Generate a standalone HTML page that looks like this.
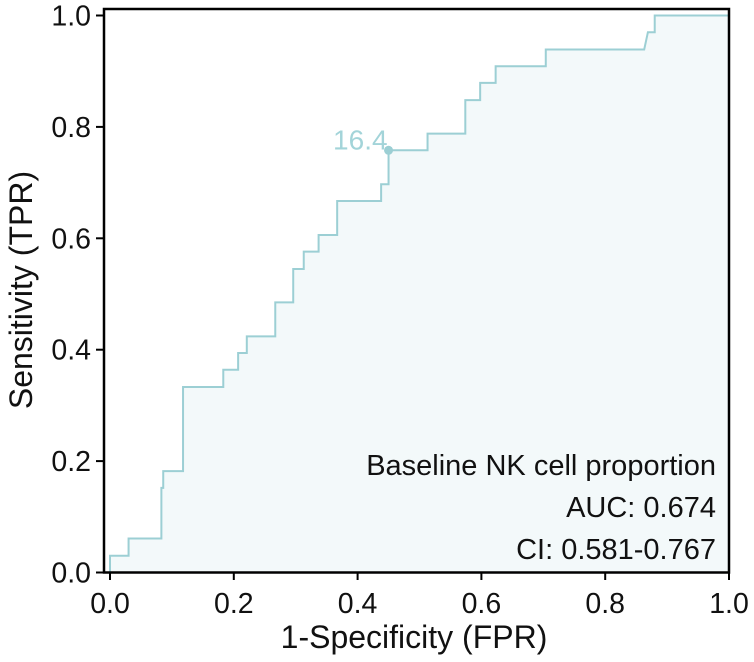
<!DOCTYPE html>
<html><head><meta charset="utf-8"><style>
html,body{margin:0;padding:0;background:#fff;}
svg{display:block;font-family:"Liberation Sans",Arial,sans-serif;}
</style></head><body>
<svg id="chart" width="754" height="662" viewBox="0 0 754 662">
<g id="plot"></g>
</svg>
<script>
const fpr = [0,0,0.030,0.030,0.083,0.083,0.086,0.086,0.118,0.118,0.183,0.183,0.207,0.207,0.221,0.221,0.267,0.267,0.296,0.296,0.313,0.313,0.337,0.337,0.367,0.367,0.438,0.438,0.450,0.450,0.513,0.513,0.574,0.574,0.598,0.598,0.623,0.623,0.704,0.704,0.863,0.869,0.880,0.880,1];
const tpr = [0,0.030,0.030,0.061,0.061,0.152,0.152,0.182,0.182,0.333,0.333,0.364,0.364,0.394,0.394,0.424,0.424,0.485,0.485,0.545,0.545,0.576,0.576,0.606,0.606,0.667,0.667,0.697,0.697,0.758,0.758,0.788,0.788,0.848,0.848,0.879,0.879,0.909,0.909,0.939,0.939,0.970,0.970,1,1];
const xTicks = [0,0.2,0.4,0.6,0.8,1.0];
const yTicks = [0,0.2,0.4,0.6,0.8,1.0];
const cutoffPoint = [0.450, 0.758];
const cutoffLabel = ["16.4"];
const annotations = ["Baseline NK cell proportion","AUC: 0.674","CI: 0.581-0.767"];

const NS = "http://www.w3.org/2000/svg";
const X0 = 110, X1 = 729, Y0 = 572.5, Y1 = 15.5;
const sx = v => X0 + v * (X1 - X0);
const sy = v => Y0 - v * (Y0 - Y1);
const g = document.getElementById('plot');
function mk(tag, attrs, parent) {
  const e = document.createElementNS(NS, tag);
  for (const k in attrs) e.setAttribute(k, attrs[k]);
  (parent || g).appendChild(e);
  return e;
}
let d = "";
for (let i = 0; i < fpr.length; i++) d += (i ? "L" : "M") + sx(fpr[i]).toFixed(2) + "," + sy(tpr[i]).toFixed(2);
const area = mk('path', {d: d + "L" + sx(1) + "," + sy(0) + "Z", fill: "#f3f9fa", stroke: "none"});


const line = mk('path', {d: d, fill: "none", stroke: "#9ccfd4", "stroke-width": 2});


const pt = mk('circle', {cx: sx(cutoffPoint[0]), cy: sy(cutoffPoint[1]), r: 4.5, fill: "#9ccfd4"});


const ct = mk('text', {x: sx(cutoffPoint[0]) - 1, y: sy(cutoffPoint[1]) - 1, "text-anchor": "end", "font-size": 28, fill: "#a3d4d9"});
ct.textContent = cutoffLabel[0];


const frame = mk('rect', {x: 104, y: 9, width: 625, height: 563.5, fill: "none", stroke: "#000", "stroke-width": 2.5});


xTicks.forEach(v => {
  const t = mk('line', {x1: sx(v), x2: sx(v), y1: 572, y2: 580, stroke: "#000", "stroke-width": 2});
  
  
  const l = mk('text', {x: sx(v), y: 613, "text-anchor": "middle", "font-size": 28.5, fill: "#111"});
  l.textContent = v.toFixed(1);
  
  
});
yTicks.forEach(v => {
  const t = mk('line', {x1: 96, x2: 104, y1: sy(v), y2: sy(v), stroke: "#000", "stroke-width": 2});
  
  
  const l = mk('text', {x: 91, y: sy(v) + 10, "text-anchor": "end", "font-size": 28.5, fill: "#111"});
  l.textContent = v.toFixed(1);
  
  
});
const annY = [475, 517, 559];
annotations.forEach((s, i) => {
  const a = mk('text', {x: 716, y: annY[i], "text-anchor": "end", "font-size": 29, fill: "#111"});
  a.textContent = s;
  
  
});
const xt = mk('text', {x: 414, y: 648, "text-anchor": "middle", "font-size": 32, fill: "#111"});
xt.textContent = "1-Specificity (FPR)";


const yt = mk('text', {x: 0, y: 0, "text-anchor": "middle", "font-size": 32, fill: "#111", transform: "translate(32,290) rotate(-90)"});
yt.textContent = "Sensitivity (TPR)";


</script>
</body></html>
